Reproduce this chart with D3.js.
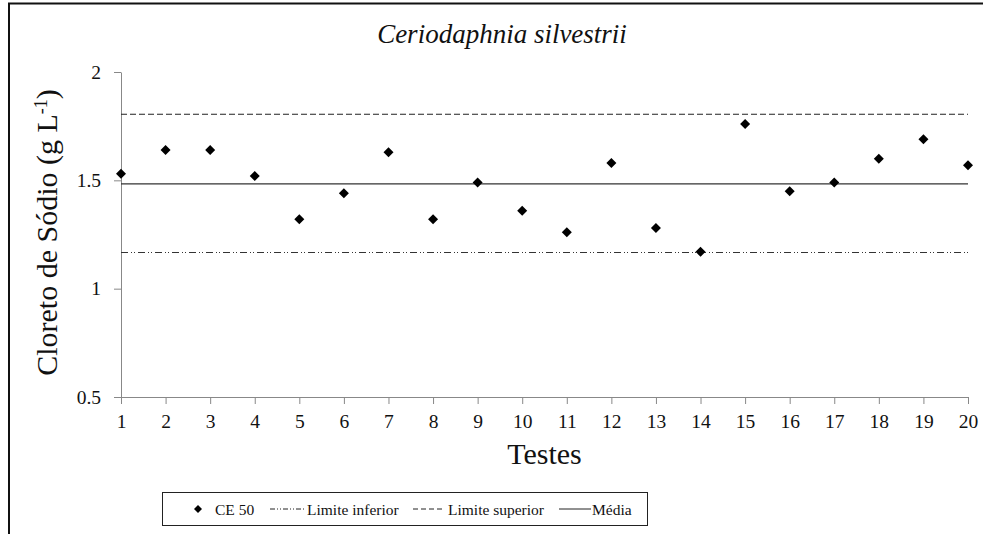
<!DOCTYPE html>
<html>
<head>
<meta charset="utf-8">
<script src="https://cdn.jsdelivr.net/npm/d3@7"></script>
<style>
  body { margin: 0; background: #fff; }
  svg text { font-family: "Liberation Serif", "DejaVu Serif", serif; fill: #111; }
</style>
</head>
<body>
<div id="chart"></div>
<script>
const testes = d3.range(1, 21);
const ce50 = [1.53, 1.64, 1.64, 1.52, 1.32, 1.44, 1.63, 1.32, 1.49, 1.36,
              1.26, 1.58, 1.28, 1.17, 1.76, 1.45, 1.49, 1.60, 1.69, 1.57];
const limiteInferior = 1.167;
const limiteSuperior = 1.805;
const media = 1.484;
const yTicks = [0.5, 1, 1.5, 2];

const serif = '"Liberation Serif", "DejaVu Serif", serif';
const width = 989, height = 534;
const margin = { top: 72, right: 21, bottom: 137, left: 121 };
const w = width - margin.left - margin.right;
const h = height - margin.top - margin.bottom;

const svg = d3.select('#chart')
  .append('svg')
  .attr('width', width)
  .attr('height', height);

// frame (only top and left edges are visible in the crop)
svg.append('path')
  .attr('d', 'M9,540V3.5H983')
  .attr('fill', 'none')
  .attr('stroke', '#111')
  .attr('stroke-width', 2);

const g = svg.append('g')
  .attr('transform', `translate(${margin.left},${margin.top})`);

const x = d3.scaleLinear().domain([1, 20]).range([0, w]);
const y = d3.scaleLinear().domain([0.5, 2]).range([h, 0]);

// axes
const xAxis = g.append('g')
  .attr('transform', `translate(0,${h})`)
  .call(d3.axisBottom(x).tickValues(testes).tickFormat(d3.format('d')).tickSize(7).tickSizeOuter(0));
const yAxis = g.append('g')
  .call(d3.axisLeft(y).tickValues(yTicks).tickFormat(d => d).tickSize(7).tickSizeOuter(0));

[xAxis, yAxis].forEach(a => {
  a.attr('font-family', serif);
  a.select('.domain').attr('stroke', '#888');
  a.selectAll('.tick line').attr('stroke', '#888');
  a.selectAll('.tick text')
    .style('font-family', serif)
    .style('font-size', '19.5px')
    .attr('fill', '#111');
});
xAxis.selectAll('.tick text').attr('dy', '0.71em').attr('y', 17);
yAxis.selectAll('.tick text').attr('x', -20);

// reference lines
const refLines = [
  { v: limiteSuperior, dash: '6,3', color: '#222' },
  { v: media, dash: null, color: '#333' },
  { v: limiteInferior, dash: '7,3,1,2,1,3', color: '#333' }
];
g.selectAll('.ref')
  .data(refLines)
  .enter().append('line')
  .attr('x1', 0).attr('x2', w)
  .attr('y1', d => y(d.v)).attr('y2', d => y(d.v))
  .attr('stroke', d => d.color)
  .attr('stroke-width', 1.2)
  .attr('stroke-dasharray', d => d.dash);

// points
const diamond = 'M0,-5L5,0L0,5L-5,0Z';
g.selectAll('.pt')
  .data(ce50)
  .enter().append('path')
  .attr('d', diamond)
  .attr('transform', (d, i) => `translate(${x(testes[i])},${y(d)})`)
  .attr('fill', '#000');

// titles
svg.append('text')
  .attr('x', 502).attr('y', 43)
  .attr('text-anchor', 'middle')
  .style('font-family', serif)
  .style('font-style', 'italic')
  .style('font-size', '27px')
  .text('Ceriodaphnia silvestrii');

svg.append('text')
  .attr('x', margin.left + w / 2).attr('y', 464)
  .attr('text-anchor', 'middle')
  .style('font-family', serif)
  .style('font-size', '30px')
  .text('Testes');

const yl = svg.append('text')
  .attr('transform', `translate(57,${margin.top + h / 2 - 2}) rotate(-90)`)
  .attr('text-anchor', 'middle')
  .style('font-family', serif)
  .style('font-size', '30px');
yl.append('tspan').text('Cloreto de Sódio (g L');
yl.append('tspan').attr('baseline-shift', 'super').style('font-size', '18px').text('-1');
yl.append('tspan').text(')');

// legend
const leg = svg.append('g');
leg.append('rect')
  .attr('x', 162.5).attr('y', 492.5)
  .attr('width', 485).attr('height', 33)
  .attr('fill', '#fff')
  .attr('stroke', '#222');

const ly = 509;
leg.append('path').attr('d', 'M0,-4L4,0L0,4L-4,0Z')
  .attr('transform', `translate(198,${ly})`).attr('fill', '#000');

const legLines = [
  { x1: 270, x2: 305, dash: '5,2,1,2,1,2' },
  { x1: 413, x2: 445, dash: '5,3' },
  { x1: 559, x2: 591, dash: null }
];
leg.selectAll('.ll')
  .data(legLines)
  .enter().append('line')
  .attr('x1', d => d.x1).attr('x2', d => d.x2)
  .attr('y1', ly).attr('y2', ly)
  .attr('stroke', '#222')
  .attr('stroke-dasharray', d => d.dash);

const legText = [
  { x: 215, t: 'CE 50' },
  { x: 307, t: 'Limite inferior' },
  { x: 448, t: 'Limite superior' },
  { x: 592, t: 'Média' }
];
leg.selectAll('.lt')
  .data(legText)
  .enter().append('text')
  .attr('x', d => d.x).attr('y', ly + 6)
  .style('font-family', serif)
  .style('font-size', '15.5px')
  .text(d => d.t);
</script>
</body>
</html>
